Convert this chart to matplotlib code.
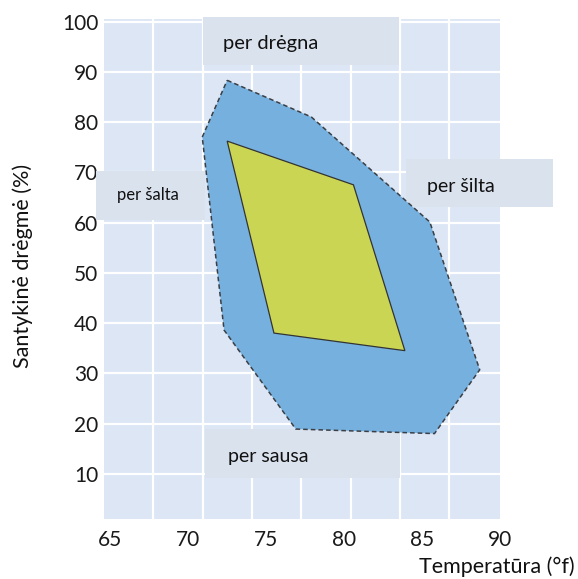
import matplotlib.pyplot as plt
from matplotlib.patches import Polygon, Rectangle

plt.rcParams['font.family'] = ['Lato', 'DejaVu Sans']

# comfort zone outlines (temperature °F, relative humidity %)
outer_temp = [72.5, 77.9, 85.5, 88.7, 85.8, 76.9, 72.3, 70.9]
outer_hum = [88.3, 81.0, 60.1, 30.7, 18.0, 18.9, 38.6, 77.0]
inner_temp = [72.5, 80.6, 83.9, 75.5]
inner_hum = [76.2, 67.5, 34.5, 38.0]

x_ticks = [65, 70, 75, 80, 85, 90]
y_ticks = [10, 20, 30, 40, 50, 60, 70, 80, 90, 100]

# label boxes: text, box (x0, y0, x1, y1), text anchor, size
zones = [
    ('per drėgna', (70.93, 91.3, 83.5, 100.9), (72.2, 95.7), 14.5),
    ('per šalta', (64.1, 60.5, 71.06, 70.2), (65.45, 65.5), 12),
    ('per šilta', (83.94, 63.1, 93.4, 72.6), (85.34, 67.1), 14),
    ('per sausa', (71.06, 9.2, 83.6, 18.95), (72.53, 13.4), 14),
]

fig = plt.figure(figsize=(5.78, 5.79), dpi=100)
ax = fig.add_axes([0.18, 0.1036, 0.685, 0.8636])
ax.set_facecolor('#dce6f5')
ax.set_xlim(64.6, 89.9)
ax.set_ylim(1, 100.5)

# background grid: 8 columns, rows at the y ticks
xmin, xmax = ax.get_xlim()
for k in range(1, 8):
    ax.axvline(xmin + k * (xmax - xmin) / 8, color='white', lw=1.6, zorder=1)
for yv in y_ticks:
    ax.axhline(yv, color='white', lw=1.6, zorder=1)

ax.set_xticks(x_ticks)
ax.set_yticks(y_ticks)
ax.tick_params(length=0, labelsize=15, labelcolor='#1a1a1a')
ax.tick_params(axis='x', pad=8)
ax.tick_params(axis='y', pad=4)
for s in ax.spines.values():
    s.set_visible(False)

for text, (x0, y0, x1, y1), (tx, ty), size in zones:
    ax.add_patch(Rectangle((x0, y0), x1 - x0, y1 - y0, facecolor='#dae2ee',
                           edgecolor='none', zorder=2.6, clip_on=False))
    ax.text(tx, ty, text, fontsize=size, ha='left', va='center',
            color='#111111', zorder=2.7, clip_on=False)

ax.add_patch(Polygon(list(zip(outer_temp, outer_hum)), closed=True,
                     facecolor='#75b0de', edgecolor='#3a3f46', lw=1.1,
                     linestyle=(0, (3, 2)), zorder=3))
ax.add_patch(Polygon(list(zip(inner_temp, inner_hum)), closed=True,
                     facecolor='#cad653', edgecolor='#333333', lw=0.9,
                     zorder=4))

fig.text(0.040, 0.54, 'Santykinė drėgmė (%)', rotation=90, fontsize=15.5,
         ha='center', va='center', color='#111111')
fig.text(0.995, 0.021, 'Temperatūra (°f)', fontsize=15.5,
         ha='right', va='center', color='#111111')

fig.savefig('out.png', dpi=100)
